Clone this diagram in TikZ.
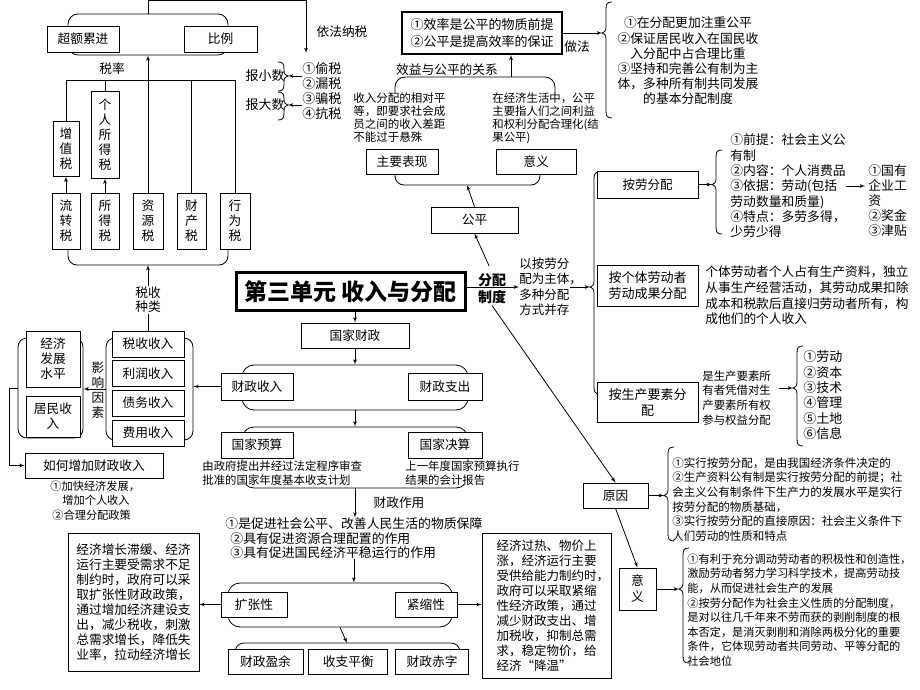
\documentclass[tikz,border=0pt]{standalone}
\usepackage{fontspec}
\setmainfont{Noto Sans CJK SC}
\usetikzlibrary{arrows,positioning}
\newcommand\fsz[2]{\fontsize{#1}{#2}\selectfont}
% left curly bracket: x, top, tip, bottom, name of tip
\newcommand\lcurly[5]{%
  \draw (#1+6,#2) .. controls (#1+1,#2) and (#1,#2+2) .. (#1,#2+7)
    -- (#1,#3-6) .. controls (#1,#3-2) and (#1-2,#3) .. (#1-4,#3)
    .. controls (#1-2,#3) and (#1,#3+2) .. (#1,#3+6)
    -- (#1,#4-7) .. controls (#1,#4-2) and (#1+1,#4) .. (#1+6,#4);
  \coordinate (#5) at (#1-4,#3);}
% right curly bracket
\newcommand\rcurly[5]{%
  \draw (#1-6,#2) .. controls (#1-1,#2) and (#1,#2+2) .. (#1,#2+7)
    -- (#1,#3-6) .. controls (#1,#3-2) and (#1+2,#3) .. (#1+4,#3)
    .. controls (#1+2,#3) and (#1,#3+2) .. (#1,#3+6)
    -- (#1,#4-7) .. controls (#1,#4-2) and (#1-1,#4) .. (#1-6,#4);
  \coordinate (#5) at (#1+4,#3);}

\begin{document}
\begin{tikzpicture}[>=latex', x=1pt, y=-1pt, line width=0.8pt]
        \tikzset{box/.style={draw, rectangle, fill=white, align=center, inner sep=0pt, font=\fsz{12.7}{15}},
        tbox/.style={box, line width=1.6pt, font=\fsz{13}{17}},
        grp/.style={draw, rectangle, rounded corners=10pt, inner sep=0pt},
        txt/.style={anchor=north west, align=left, inner sep=0pt, font=\fsz{11.5}{14.6}},
        lbl/.style={inner sep=1pt, align=center, font=\fsz{12.7}{15}},
        }
        \useasboundingbox (0,0) rectangle (920,690);
%% tax rates and tax types
        \node [grp, minimum width=160, minimum height=41] (rategrp) at (148,34.5) {};
        \node [box, minimum width=72, minimum height=26] (chaoe) at (83,39) {超额累进};
        \node [box, minimum width=73, minimum height=26] (bili) at (220.5,39) {比例};
        \node [lbl] (rate) at (112,69) {税率};
        \draw [rounded corners=9pt] (68,245) -- (68,265) -- (228,265) -- (228,245);
        \coordinate (typebot) at (148,265);
        \node [box, minimum width=26, minimum height=55] (zengzhi) at (66,148.5) {增\\值\\税};
        \node [box, minimum width=28, minimum height=87] (geren) at (105,134.5) {个\\人\\所\\得\\税};
        \node [box, minimum width=28, minimum height=56] (liuzhuan) at (66,221) {流\\转\\税};
        \node [box, minimum width=28, minimum height=56] (suode) at (105,221) {所\\得\\税};
        \node [box, minimum width=30, minimum height=56] (ziyuan) at (148,221) {资\\源\\税};
        \node [box, minimum width=29, minimum height=56] (caichan) at (191.5,221) {财\\产\\税};
        \node [box, minimum width=30, minimum height=56] (xingwei) at (235,221) {行\\为\\税};
        \coordinate (ratebar) at (0,80);
        \draw (zengzhi.north) -- (zengzhi.north |- ratebar) -- (xingwei.north |- ratebar) -- (xingwei.north);
        \draw (geren.north) -- (geren.north |- ratebar);
        \draw (caichan.north) -- (caichan.north |- ratebar);
        \draw [->] (ziyuan.north) -- (rategrp.south);
        \draw [->] (liuzhuan) -- (zengzhi);
        \draw [->] (suode) -- (geren);
%% paying taxes
        \node [lbl] (yifa) at (342,32) {依法纳税};
        \node [txt, font=\fsz{13}{15}] (taxlist) at (302,62.5) {①偷税\\②漏税\\③骗税\\④抗税};
        \node [lbl, font=\fsz{13}{15}] (baoxiao) at (265,76) {报小数};
        \node [lbl, font=\fsz{13}{15}] (baoda) at (265,105) {报大数};
        \rcurly{284}{62}{76}{91}{rb1}
        \rcurly{284}{92}{105}{120}{rb2}
        \draw [->] (taxlist.west |- rb1) -- (rb1);
        \draw [->] (taxlist.west |- rb2) -- (rb2);
        \coordinate (lawin) at (306,53);
        \draw [->] (rategrp.north) -- ++(0,-13) -| (lawin);
%% efficiency and fairness
        \node [tbox, minimum width=160, minimum height=42] (xiaolv) at (482,33) {①效率是公平的物质前提\\②公平是提高效率的保证};
        \lcurly{606}{2}{33}{118}{lb1}
        \draw [->] (xiaolv.east) -- (lb1);
        \node [lbl] (zuofa) at (577,47) {做法};
        \node [align=center, inner sep=0pt, anchor=north, font=\fsz{12.8}{15.2}] (zuofatxt) at (688,16.6) {①在分配更加注重公平\\②保证居民收入在国民收\\入分配中占合理比重\\③坚持和完善公有制为主\\体，多种所有制共同发展\\的基本分配制度};
        \node [lbl] (guanxi) at (447,70) {效益与公平的关系};
        \draw [rounded corners=10pt] (395,93) -- (395,77) -- (555,77) -- (555,93);
        \coordinate (relbr) at (511,77);
        \draw [->] (relbr) -- (relbr |- xiaolv.south);
        \node [txt, font=\fsz{11.5}{13}] (biaoxiantxt) at (353,92.3) {收入分配的相对平\\等，即要求社会成\\员之间的收入差距\\不能过于悬殊};
        \node [txt, font=\fsz{11.4}{13}] (yiyitxt1) at (492,92.3) {在经济生活中，公平\\主要指人们之间利益\\和权利分配合理化(结\\果公平)};
        \draw [rounded corners=9pt] (395,170) -- (395,185) -- (540,185) -- (540,170);
        \coordinate (fairbr) at (467,185);
        \node [box, minimum width=72, minimum height=25] (biaoxian) at (402,161.5) {主要表现};
        \node [box, minimum width=80, minimum height=25] (yiyi1) at (536,161.5) {意义};
        \node [box, minimum width=87, minimum height=26] (gongping) at (474.5,220) {公平};
        \draw [->] (gongping.north) -- (fairbr);
%% title
        \node [box, line width=3pt, minimum width=229, minimum height=38, font=\fsz{23}{26}\bfseries] (title) at (350.5,291.5) {第三单元 收入与分配};
        \node [lbl, font=\fsz{14}{17}\bfseries] (fenpei) at (492,289) {分配\\制度};
        \node [txt, anchor=west, font=\fsz{12.5}{15.5}] (zhuti) at (519,287) {以按劳分\\配为主体\rlap{，}\\多种分配\\方式并存};
        \draw [->] (title.east |- zhuti.west) -- (zhuti.west);
        \draw [->, shorten <=7pt] (fenpei.north) -- (gongping.south);
%% distribution forms
        \lcurly{594}{172}{287}{394}{lb6}
        \draw [->] (zhuti.east) -- (lb6);
        \node [box, minimum width=101, minimum height=27, font=\fsz{12.5}{15}] (anlao) at (647.5,184.5) {按劳分配};
        \node [box, minimum width=101, minimum height=41, font=\fsz{13}{16}] (geti) at (647.5,285.5) {按个体劳动者\\劳动成果分配};
        \node [box, minimum width=101, minimum height=40, font=\fsz{13}{16}] (yaosu) at (647.5,402) {按生产要素分\\配};
        \lcurly{716}{150}{184.5}{234}{lb2}
        \draw [->] (anlao.east) -- (lb2);
        \node [txt, font=\fsz{12.8}{15.3}] (anlaotxt) at (730,133.6) {①前提：社会主义公\\有制\\②内容：个人消费品\\③依据：劳动(包括\\劳动数量和质量)\\④特点：多劳多得，\\少劳少得};
        \coordinate (wage) at (865,186);
        \draw [->] (anlaotxt.east |- wage) -- (wage);
        \node [txt, font=\fsz{12.8}{15}] (wagetxt) at (868,164.6) {①国有\\企业工\\资\\②奖金\\③津贴};
        \node [txt, font=\fsz{12.7}{15.7}] (getitxt) at (705,265.6) {个体劳动者个人占有生产资料，独立\\从事生产经营活动，其劳动成果扣除\\成本和税款后直接归劳动者所有，构\\成他们的个人收入};
        \node [txt, font=\fsz{11.4}{14.6}] (yaosutxt) at (702,370.3) {是生产要素所\\有者凭借对生\\产要素所有权\\参与权益分配};
        \lcurly{797}{346}{388}{446}{lb3}
        \draw [->, shorten <=8pt] (yaosutxt.east |- lb3) -- (lb3);
        \node [txt, font=\fsz{13}{15.3}] (factors) at (803,350.5) {①劳动\\②资本\\③技术\\④管理\\⑤土地\\⑥信息};
%% reasons and meaning
        \node [box, minimum width=65, minimum height=25] (yuanyin) at (615.5,495.5) {原因};
        \node [box, minimum width=37, minimum height=42, font=\fsz{12.7}{16}] (yiyi2) at (637.5,589) {意\\义};
        \draw [->] (fenpei.south) -- (yuanyin.north);
        \draw [->] (yuanyin.south) -- (yiyi2.north);
        \lcurly{668}{447}{495.5}{541}{lb4}
        \draw [->] (yuanyin.east) -- (lb4);
        \node [txt] (yuanyintxt) at (672,457.2) {①实行按劳分配，是由我国经济条件决定的\\②生产资料公有制是实行按劳分配的前提；社\\会主义公有制条件下生产力的发展水平是实行\\按劳分配的物质基础，\\③实行按劳分配的直接原因：社会主义条件下\\人们劳动的性质和特点};
        \lcurly{683}{548}{589}{663}{lb5}
        \draw [->] (yiyi2.east) -- (lb5);
        \node [txt, font=\fsz{11.2}{14.6}] (yiyitxt2) at (687,553.4) {①有利于充分调动劳动者的积极性和创造性，\\激励劳动者努力学习科学技术，提高劳动技\\能，从而促进社会生产的发展\\②按劳分配作为社会主义性质的分配制度，\\是对以往几千年来不劳而获的剥削制度的根\\本否定，是消灭剥削和消除两极分化的重要\\条件，它体现劳动者共同劳动、平等分配的\\社会地位};
%% state finance
        \node [box, minimum width=108, minimum height=25] (guojia) at (355,335.5) {国家财政};
        \draw [->] (guojia.north |- title.south) -- (guojia.north);
        \node [grp, rounded corners=12pt, minimum width=226, minimum height=45] (szgrp) at (355,387.5) {};
        \node [box, minimum width=72, minimum height=27] (csr) at (257,386.5) {财政收入};
        \node [box, minimum width=74, minimum height=27] (czc) at (445,386.5) {财政支出};
        \draw [->] (guojia) -- (szgrp);
        \node [grp, rounded corners=12pt, minimum width=226, minimum height=61] (ysgrp) at (355,457.5) {};
        \node [box, minimum width=72, minimum height=26] (yusuan) at (257,445) {国家预算};
        \node [box, minimum width=74, minimum height=26] (juesuan) at (445,445) {国家决算};
        \node [txt, fill=white, font=\fsz{11.4}{14}] (yusuantxt) at (202,460.3) {由政府提出并经过法定程序审查\\批准的国家年度基本收支计划};
        \node [txt, fill=white, font=\fsz{11.4}{14}] (juesuantxt) at (405,460.3) {上一年度国家预算执行\\结果的会计报告};
        \draw [->] (szgrp) -- (ysgrp);
        \node [lbl] (zuoyongl) at (399,503) {财政作用};
        \node [txt, font=\fsz{12.85}{14.5}] (zuoyong) at (225,517.6) {①是促进社会公平、改善人民生活的物质保障\\\hspace{5pt}②具有促进资源合理配置的作用\\\hspace{5pt}③具有促进国民经济平稳运行的作用};
        \draw [->] (ysgrp.south) -- (ysgrp.south |- zuoyong.north);
        \node [grp, rounded corners=12pt, minimum width=224, minimum height=44] (zcgrp) at (340,605) {};
        \node [box, minimum width=66, minimum height=25] (kuozhang) at (254,604.5) {扩张性};
        \node [box, minimum width=62, minimum height=25] (jinsuo) at (426,604.5) {紧缩性};
        \draw [->] (zuoyong.south) -- (zuoyong.south |- zcgrp.north);
        \draw [rounded corners=9pt] (235,655) -- (235,643) -- (460,643) -- (460,655);
        \coordinate (szbr) at (347,643);
        \draw [->] (zcgrp.south) -- (szbr);
        \node [box, minimum width=75, minimum height=25] (yingyu) at (265.5,661.5) {财政盈余};
        \node [box, minimum width=79, minimum height=25, right=5pt of yingyu] (pingheng) {收支平衡};
        \node [box, minimum width=73, minimum height=25, right=7pt of pingheng] (chizi) {财政赤字};
        \node [box, align=left, minimum width=131, minimum height=138] (kuotxt) at (133.5,602) {经济增长滞缓、经济\\运行主要受需求不足\\制约时，政府可以采\\取扩张性财政政策，\\通过增加经济建设支\\出，减少税收，刺激\\总需求增长，降低失\\业率，拉动经济增长};
        \draw [->] (kuozhang.west) -- (kuotxt.east |- kuozhang.west);
        \node [box, align=left, minimum width=129, minimum height=145, font=\fsz{12.5}{15}] (jintxt) at (546.5,605.5) {经济过热、物价上\\涨，经济运行主要\\受供给能力制约时\rlap{，}\\政府可以采取紧缩\\性经济政策，通过\\减少财政支出、增\\加税收，抑制总需\\求，稳定物价，给\\经济“降温”};
        \draw [->] (jinsuo.east) -- (jintxt.west |- jinsuo.east);
%% fiscal revenue
        \node [grp, rounded corners=9pt, minimum width=65, minimum height=100] (econgrp) at (50.5,388) {};
        \node [box, minimum width=54, minimum height=56] (jingji) at (53,359) {经济\\发展\\水平};
        \node [box, minimum width=54, minimum height=41] (jumin) at (53,416.5) {居民收\\入};
        \node [grp, rounded corners=9pt, minimum width=87, minimum height=102] (incgrp) at (149.5,389) {};
        \node [box, minimum width=72, minimum height=26] (shuishou) at (148,344) {税收收入};
        \node [box, minimum width=72, minimum height=26, below=2.5pt of shuishou] (lirun) {利润收入};
        \node [box, minimum width=72, minimum height=26, below=3pt of lirun] (zhaiwu) {债务收入};
        \node [box, minimum width=72, minimum height=26, below=3pt of zhaiwu] (feiyong) {费用收入};
        \draw [->] (incgrp.west) -- (incgrp.west -| econgrp.east);
        \node [lbl] (yingxiang) at (98,390) {影\\响\\因\\素};
        \draw [->] (csr.west) -- (csr.west -| incgrp.east);
        \draw [->] (shuishou.north) -- (typebot);
        \node [lbl, fill=white, font=\fsz{12.7}{14}] (zhonglei) at (148,300) {税收\\种类};
        \node [box, minimum width=138, minimum height=25] (ruhe) at (94,465.5) {如何增加财政收入};
        \draw [->] (econgrp.west) -- ++(-8,0) |- (ruhe.west);
        \node [txt, font=\fsz{11.2}{14.5}] (ruhetxt) at (50,480.4) {①加快经济发展，\\\hspace{12pt}增加个人收入\\\hspace{2pt}②合理分配政策};
    \end{tikzpicture}
\end{document}
